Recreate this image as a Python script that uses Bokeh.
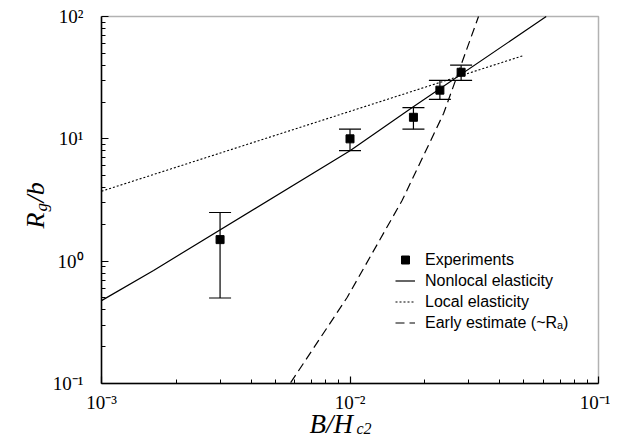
import math
from bokeh.plotting import figure
from bokeh.models import (Range1d, FixedTicker, Whisker, TeeHead, ColumnDataSource,
                          Legend, LegendItem, Label, LogAxis, BoxAnnotation)
from bokeh.embed import file_html
from bokeh.resources import INLINE

# ---------------- data ----------------
exp_x = [0.003, 0.01, 0.018, 0.023, 0.028]
exp_y = [1.5, 10.0, 15.0, 25.0, 35.0]
exp_upper = [2.5, 12.0, 18.0, 30.0, 40.0]
exp_lower = [0.5, 8.0, 12.0, 21.0, 30.0]

nonlocal_x = [0.001, 0.00162, 0.01, 0.0178, 0.0616]
nonlocal_y = [0.476, 0.84, 8.0, 18.0, 100.0]

local_x = [0.001, 0.05]
local_y = [3.73, 48.0]

early_x = [0.00577, 0.00975, 0.0162, 0.0238, 0.0329]
early_y = [0.1016, 0.507, 3.13, 16.1, 100.0]

x_tick_vals = [0.001, 0.01, 0.1]
x_tick_text = ["10⁻³", "10⁻²", "10⁻¹"]
y_tick_vals = [0.1, 1, 10, 100]
y_tick_text = ["10⁻¹", "10⁰", "10¹", "10²"]

legend_labels = ["Experiments", "Nonlocal elasticity", "Local elasticity",
                 "Early estimate (~Rₐ)"]

SERIF = "Liberation Serif"
SANS = "Liberation Sans"

# ---------------- geometry (pixels) ----------------
W, H = 610, 439
BOX_L, BOX_R, BOX_T, BOX_B = 101, 598, 16, 383
X_LO, X_HI = 1e-3, 1e-1
Y_LO, Y_HI = 0.1, 100.0

px_dec_x = (BOX_R - BOX_L) / (math.log10(X_HI) - math.log10(X_LO))
px_dec_y = (BOX_B - BOX_T) / (math.log10(Y_HI) - math.log10(Y_LO))
xr = Range1d(10 ** (math.log10(X_LO) - BOX_L / px_dec_x),
             10 ** (math.log10(X_HI) + (W - BOX_R) / px_dec_x))
yr = Range1d(10 ** (math.log10(Y_LO) - (H - BOX_B) / px_dec_y),
             10 ** (math.log10(Y_HI) + BOX_T / px_dec_y))

p = figure(width=W, height=H, x_axis_type="log", y_axis_type="log",
           x_axis_location=None, y_axis_location=None,
           x_range=xr, y_range=yr,
           output_backend="svg", toolbar_location=None,
           min_border=0, min_border_left=0, min_border_right=0,
           min_border_top=0, min_border_bottom=0)

p.xgrid.visible = False
p.ygrid.visible = False
p.outline_line_alpha = 0
p.background_fill_color = "white"
p.border_fill_color = "white"


def minors(lo, hi):
    out = []
    for k in range(lo, hi):
        for m in range(2, 10):
            out.append(m * 10.0 ** k)
    return out


xax = LogAxis(fixed_location=Y_LO, bounds=(X_LO, X_HI),
              ticker=FixedTicker(ticks=x_tick_vals, minor_ticks=minors(-3, -1)))
yax = LogAxis(fixed_location=X_LO, bounds=(Y_LO, Y_HI),
              ticker=FixedTicker(ticks=y_tick_vals, minor_ticks=minors(-1, 2)))
xax.major_label_overrides = dict(zip(x_tick_vals, x_tick_text))
yax.major_label_overrides = dict(zip(y_tick_vals, y_tick_text))
for ax in (xax, yax):
    ax.major_tick_in = 7
    ax.major_tick_out = 0
    ax.minor_tick_in = 4
    ax.minor_tick_out = 0
    ax.axis_line_width = 1.5
    ax.axis_line_color = "black"
    ax.major_tick_line_color = "black"
    ax.major_tick_line_width = 1.2
    ax.minor_tick_line_color = "black"
    ax.major_label_text_font = SERIF
    ax.major_label_text_font_size = "19px"
    ax.major_label_text_color = "black"
xax.major_label_standoff = 8
yax.major_label_standoff = 18
p.add_layout(xax, "below")
p.add_layout(yax, "left")

# plot box (top and right edges)
p.add_layout(BoxAnnotation(left=X_LO, right=X_HI, bottom=Y_LO, top=Y_HI,
                           fill_alpha=0, line_color="black", line_width=1.5))

# ---------------- glyphs ----------------
r_local = p.line(local_x, local_y, line_color="black", line_width=1.1,
                 line_dash="2 2")
r_nonlocal = p.line(nonlocal_x, nonlocal_y, line_color="black", line_width=1.2)
r_early = p.line(early_x, early_y, line_color="black", line_width=1.2,
                 line_dash="9 5")

src = ColumnDataSource(dict(x=exp_x, y=exp_y, upper=exp_upper, lower=exp_lower))
wh = Whisker(base="x", upper="upper", lower="lower", source=src,
             line_color="black", line_width=1.2,
             upper_head=TeeHead(size=22, line_color="black", line_width=1.2),
             lower_head=TeeHead(size=22, line_color="black", line_width=1.2))
p.add_layout(wh)
r_exp = p.scatter("x", "y", source=src, marker="square", size=8,
                  fill_color="black", line_color="black")

legend = Legend(items=[
    LegendItem(label=legend_labels[0], renderers=[r_exp]),
    LegendItem(label=legend_labels[1], renderers=[r_nonlocal]),
    LegendItem(label=legend_labels[2], renderers=[r_local]),
    LegendItem(label=legend_labels[3], renderers=[r_early]),
], location=(395, H - 333))
legend.label_text_font = SANS
legend.label_text_font_size = "16px"
legend.label_text_color = "black"
legend.glyph_width = 20
legend.glyph_height = 21
legend.label_height = 21
legend.label_standoff = 10
legend.spacing = 0
legend.padding = 0
legend.margin = 0
legend.border_line_alpha = 0
legend.background_fill_alpha = 0
p.add_layout(legend)

# ---------------- axis titles (as text labels) ----------------
lab_kw = dict(x=X_LO, y=Y_LO, text_font=SERIF, text_font_style="italic",
              text_color="black", text_baseline="alphabetic", text_align="left")
p.add_layout(Label(text="B/H", x_offset=208, y_offset=-40,
                   text_font_size="27px", **lab_kw))
p.add_layout(Label(text="c2", x_offset=255, y_offset=-45,
                   text_font_size="16px", **lab_kw))
p.add_layout(Label(text="R", x_offset=-66, y_offset=155, angle=math.pi / 2,
                   text_font_size="26px", **lab_kw))
p.add_layout(Label(text="g", x_offset=-60, y_offset=172, angle=math.pi / 2,
                   text_font_size="17px", **lab_kw))
p.add_layout(Label(text="/b", x_offset=-66, y_offset=181, angle=math.pi / 2,
                   text_font_size="26px", **lab_kw))

open("out.html", "w").write(file_html(p, INLINE))
